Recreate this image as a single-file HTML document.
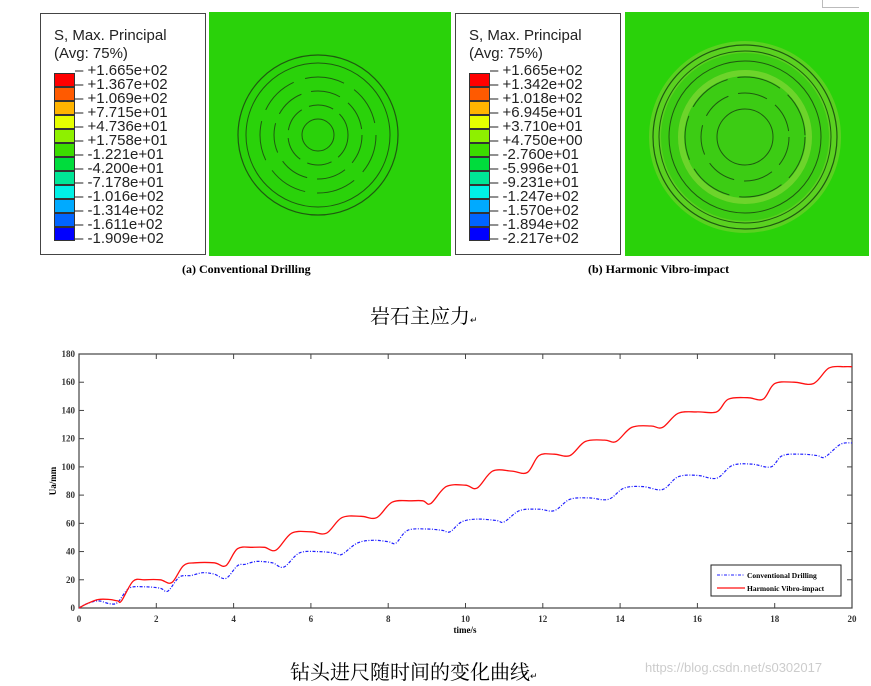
<!DOCTYPE html>
<html><head><meta charset="utf-8">
<style>
body{margin:0;width:871px;height:686px;background:#fff;position:relative;overflow:hidden;font-family:"Liberation Sans",sans-serif}
.abs{position:absolute}
.lbox{position:absolute;border:1px solid #444;background:#fff;box-sizing:border-box}
.cap{position:absolute;font-family:"Liberation Serif",serif;font-weight:bold;font-size:12px}
.cn{position:absolute;font-family:"Liberation Serif","Noto Serif CJK SC",serif;font-size:20px}
</style></head><body>
<div class="abs" style="left:822px;top:-1px;width:36px;height:8px;border-left:1px solid #bbb;border-bottom:1px solid #bbb"></div>

<div class="lbox" style="left:40px;top:13px;width:166px;height:242px"></div>
<svg class="abs" style="left:209px;top:12px" width="242" height="244">
<rect width="242" height="244" fill="#2ad20a"/>
<circle cx="109" cy="123" r="80" fill="none" stroke="#1f5a10" stroke-width="1.2"/>
<circle cx="109" cy="123" r="72" fill="none" stroke="#1f5a10" stroke-width="1"/>
<circle cx="109" cy="123" r="58" fill="none" stroke="#1f5a10" stroke-width="1" stroke-dasharray="40 12"/>
<circle cx="109" cy="123" r="44" fill="none" stroke="#1f5a10" stroke-width="1" stroke-dasharray="30 10"/>
<circle cx="109" cy="123" r="30" fill="none" stroke="#1f5a10" stroke-width="1" stroke-dasharray="25 8"/>
<circle cx="109" cy="123" r="16" fill="none" stroke="#1f5a10" stroke-width="1"/>
</svg>
<div class="lbox" style="left:455px;top:13px;width:166px;height:242px"></div>
<svg class="abs" style="left:625px;top:12px" width="244" height="244">
<rect width="244" height="244" fill="#2ad20a"/>
<circle cx="120" cy="125" r="96" fill="#6fd02a" opacity="0.7"/>
<circle cx="120" cy="125" r="84" fill="#3ccc14"/>
<circle cx="120" cy="125" r="92" fill="none" stroke="#1f5a10" stroke-width="1.2"/>
<circle cx="120" cy="125" r="86" fill="none" stroke="#1f5a10" stroke-width="1"/>
<circle cx="120" cy="125" r="76" fill="none" stroke="#1f5a10" stroke-width="1"/>
<circle cx="120" cy="125" r="60" fill="none" stroke="#1f5a10" stroke-width="1" stroke-dasharray="45 10"/>
<circle cx="120" cy="125" r="44" fill="none" stroke="#1f5a10" stroke-width="1" stroke-dasharray="30 10"/>
<circle cx="120" cy="125" r="28" fill="none" stroke="#1f5a10" stroke-width="1"/>
<circle cx="120" cy="125" r="64" fill="none" stroke="#8ed83a" stroke-width="6" opacity="0.6"/>
</svg>

<div class="cap" style="left:182px;top:262px">(a) Conventional Drilling</div>
<div class="cap" style="left:588px;top:262px">(b) Harmonic Vibro-impact</div>
<div class="cn" style="left:370px;top:300px">岩石主应力<span style="font-size:9px">↵</span></div>

<svg class="abs" id="chart" style="left:0;top:340px" width="871" height="310"></svg>

<div class="cn" style="left:290px;top:656px">钻头进尺随时间的变化曲线<span style="font-size:9px">↵</span></div>
<div class="abs" style="left:645px;top:660px;font-size:13px;color:#ccc">https://blog.csdn.net/s0302017</div>

<script>
const colors=["#ff0000","#ff5a00","#ffb400","#e6ff00","#8ef000","#3cdc00","#00dc3c","#00e696","#00f0e6","#00aaff","#0064ff","#0000ff"];
const labelsA=["+1.665e+02","+1.367e+02","+1.069e+02","+7.715e+01","+4.736e+01","+1.758e+01","-1.221e+01","-4.200e+01","-7.178e+01","-1.016e+02","-1.314e+02","-1.611e+02","-1.909e+02"];
const labelsB=["+1.665e+02","+1.342e+02","+1.018e+02","+6.945e+01","+3.710e+01","+4.750e+00","-2.760e+01","-5.996e+01","-9.231e+01","-1.247e+02","-1.570e+02","-1.894e+02","-2.217e+02"];
function legend(x0,labels,name){
  const t=document.createElement('div');
  
  
  t.className='abs';t.style.cssText=`left:${x0+14}px;top:27px;font-size:15px;line-height:18px;color:#222`;
  t.innerHTML='S, Max. Principal<br>(Avg: 75%)';document.body.appendChild(t);
  colors.forEach((c,i)=>{const d=document.createElement('div');
    
    
    d.className='abs';d.style.cssText=`left:${x0+14}px;top:${73+i*14}px;width:21px;height:14px;background:${c};box-sizing:border-box;border:1px solid #333`;document.body.appendChild(d);});
  labels.forEach((l,i)=>{const d=document.createElement('div');
    
    
    d.className='abs';d.style.cssText=`left:${x0+35}px;top:${63+i*14}px;font-size:15px;line-height:16px;color:#222;white-space:nowrap`;d.textContent='– '+l;document.body.appendChild(d);});
}
legend(40,labelsA,'legend-a');legend(455,labelsB,'legend-b');

const redT=[0,0.2,0.5,0.8,1.0,1.1,1.4,1.7,2.1,2.4,2.7,3.0,3.5,3.8,4.1,4.5,4.8,5.1,5.5,6.0,6.4,6.8,7.3,7.7,8.1,8.6,8.9,9.1,9.5,10,10.3,10.7,11.2,11.6,11.9,12.3,12.7,13.1,13.6,13.9,14.3,14.8,15.1,15.5,16,16.5,16.8,17.3,17.7,18,18.5,19,19.4,19.8,20];
const redV=[0,3,6,6,5,5,19,20,20,18,30,32,32,30,42,43,43,41,53,54,53,64,65,64,75,76,76,74,86,87,85,97,97,96,108,109,108,118,119,118,128,129,128,138,139,139,148,149,148,159,160,159,170,171,171];
const blueT=[0,0.2,0.5,0.8,1.0,1.3,1.7,2.1,2.3,2.6,2.9,3.2,3.5,3.8,4.1,4.3,4.6,5.0,5.3,5.7,6.2,6.6,6.8,7.2,7.6,8,8.2,8.5,9,9.4,9.6,9.9,10.3,10.8,11,11.4,11.9,12.3,12.7,13.2,13.7,14.1,14.6,15.1,15.5,16,16.5,16.9,17.4,17.9,18.2,18.7,19.1,19.3,19.7,20];
const blueV=[0,3,5,3,4,14,15,14,12,22,23,25,24,21,30,31,33,32,29,39,40,39,38,46,48,47,46,55,56,55,54,61,63,62,61,69,70,69,77,78,77,85,86,84,93,94,92,101,102,100,108,109,108,107,116,117];
const xTicks=[0,2,4,6,8,10,12,14,16,18,20];
const yTicks=[0,20,40,60,80,100,120,140,160,180];
const X0=79,X1=852,Y0=268,Y1=14;
const sx=t=>X0+(X1-X0)*t/20, sy=v=>Y0-(Y0-Y1)*v/180;
const svg=document.getElementById('chart');const NS='http://www.w3.org/2000/svg';
function el(tag,attrs,name){const e=document.createElementNS(NS,tag);for(const k in attrs)e.setAttribute(k,attrs[k]);
  
  
  svg.appendChild(e);return e;}
el('rect',{x:X0,y:Y1,width:X1-X0,height:Y0-Y1,fill:'none',stroke:'#444','stroke-width':1.2},'plot-frame');
xTicks.forEach(t=>{el('line',{x1:sx(t),x2:sx(t),y1:Y0,y2:Y0-5,stroke:'#444'},'x-tick');el('line',{x1:sx(t),x2:sx(t),y1:Y1,y2:Y1+5,stroke:'#444'},'x-tick-top');
  const tx=el('text',{x:sx(t),y:Y0+14,'text-anchor':'middle','font-size':9,'font-family':'Liberation Serif','font-weight':'bold',fill:'#333'},'x-tick-label');tx.textContent=t;});
yTicks.forEach(v=>{el('line',{x1:X0,x2:X0+5,y1:sy(v),y2:sy(v),stroke:'#444'},'y-tick');el('line',{x1:X1,x2:X1-5,y1:sy(v),y2:sy(v),stroke:'#444'},'y-tick-right');
  const tx=el('text',{x:X0-4,y:sy(v)+3,'text-anchor':'end','font-size':9,'font-family':'Liberation Serif','font-weight':'bold',fill:'#333'},'y-tick-label');tx.textContent=v;});
const xl=el('text',{x:465,y:Y0+25,'text-anchor':'middle','font-size':9,'font-family':'Liberation Serif','font-weight':'bold'},'x-axis-title');xl.textContent='time/s';
const yl=el('text',{x:56,y:141,'text-anchor':'middle','font-size':9,'font-family':'Liberation Serif','font-weight':'bold',transform:'rotate(-90 56 141)'},'y-axis-title');yl.textContent='Ua/mm';
function smooth(T,V){
  const P=T.map((t,i)=>[sx(t),sy(V[i])]);
  let d='M'+P[0][0].toFixed(1)+','+P[0][1].toFixed(1);
  for(let i=0;i<P.length-1;i++){
    const p0=P[i-1]||P[i],p1=P[i],p2=P[i+1],p3=P[i+2]||p2;
    const c1=[p1[0]+(p2[0]-p0[0])/6,p1[1]+(p2[1]-p0[1])/6];
    const c2=[p2[0]-(p3[0]-p1[0])/6,p2[1]-(p3[1]-p1[1])/6];
    d+=` C${c1[0].toFixed(1)},${c1[1].toFixed(1)} ${c2[0].toFixed(1)},${c2[1].toFixed(1)} ${p2[0].toFixed(1)},${p2[1].toFixed(1)}`;
  }
  return d;
}
el('path',{d:smooth(blueT,blueV),fill:'none',stroke:'#2020ff','stroke-width':1.2,'stroke-dasharray':'3 1.5 1 1.5'},'series-conventional');
el('path',{d:smooth(redT,redV),fill:'none',stroke:'#ff1010','stroke-width':1.3},'series-harmonic');
el('rect',{x:711,y:225,width:130,height:31,fill:'#fff',stroke:'#222'},'chart-legend');
el('line',{x1:717,x2:745,y1:235,y2:235,stroke:'#2020ff','stroke-dasharray':'3 1.5 1 1.5'},'legend-line-conventional');
el('line',{x1:717,x2:745,y1:248,y2:248,stroke:'#ff1010','stroke-width':1.3},'legend-line-harmonic');
const l1=el('text',{x:747,y:238,'font-size':7.5,'font-family':'Liberation Serif','font-weight':'bold'},'legend-text-conventional');l1.textContent='Conventional Drilling';
const l2=el('text',{x:747,y:251,'font-size':7.5,'font-family':'Liberation Serif','font-weight':'bold'},'legend-text-harmonic');l2.textContent='Harmonic Vibro-impact';
</script>
</body></html>
